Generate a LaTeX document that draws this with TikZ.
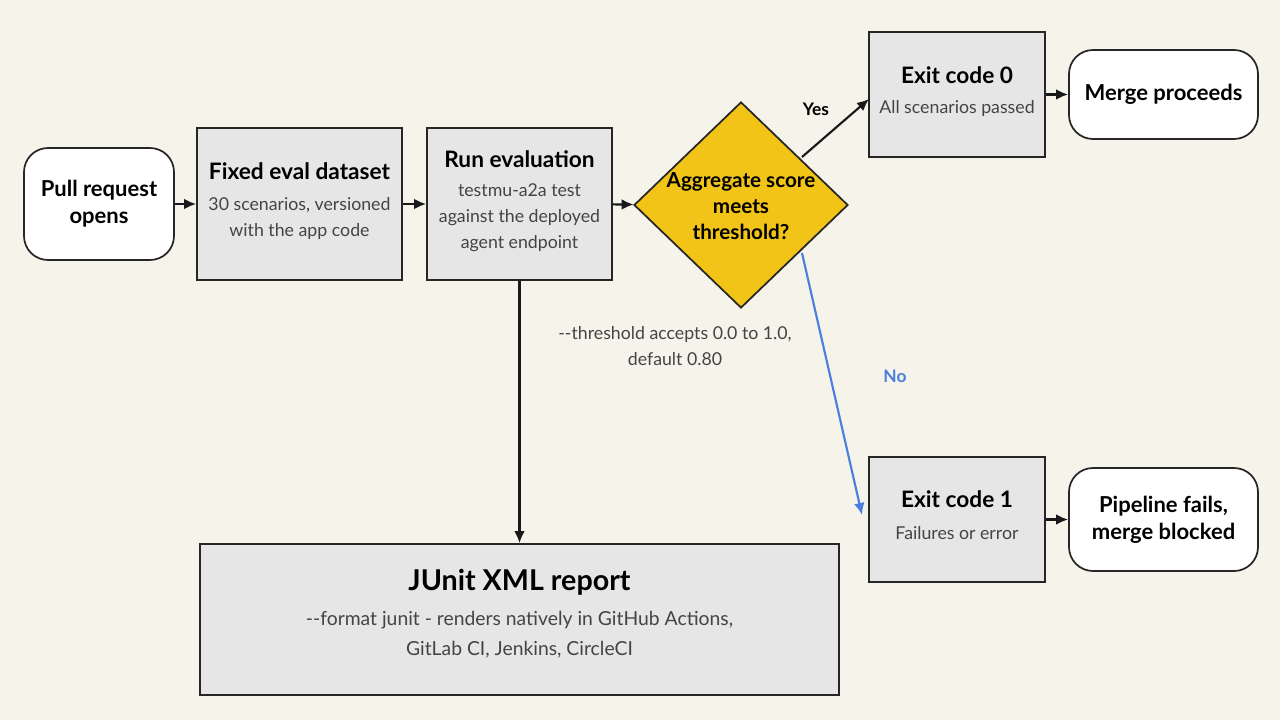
\documentclass[tikz,border=0pt]{standalone}
\usepackage{fontspec}
\setmainfont{Lato}
\usetikzlibrary{arrows.meta,shapes.geometric}
\definecolor{bg}{HTML}{F6F3EB}
\definecolor{boxf}{HTML}{E6E6E6}
\definecolor{dia}{HTML}{F2C418}
\definecolor{noc}{HTML}{4A7FE0}
\definecolor{sub}{HTML}{444444}
\begin{document}
\begin{tikzpicture}[x=0.75pt,y=-0.75pt,
  box/.style={draw=black!85,line width=1.3pt,fill=boxf,inner sep=0pt},
  rbox/.style={draw=black!85,line width=1.3pt,fill=white,rounded corners=18pt,inner sep=0pt,align=center,font=\bfseries\fontsize{16.5}{20.5}\selectfont},
  ttl/.style={font=\bfseries\fontsize{17}{19}\selectfont,inner sep=0pt},
  st/.style={font=\fontsize{13.3}{19.5}\selectfont,text=sub,align=center,inner sep=0pt},
  arr/.style={-{Latex[length=9pt,width=8pt]},line width=1.6pt,draw=black!90}]
\fill[bg] (0,0) rectangle (1280,720);
\useasboundingbox (0,0) rectangle (1280,720);
% boxes
\node[rbox,minimum width=150*0.75pt,minimum height=112*0.75pt] (pr) at (99,204) {Pull request\\opens};
\node[box,minimum width=205*0.75pt,minimum height=152*0.75pt] (fd) at (299.5,204) {};
\node[ttl] at (299.5,171) {Fixed eval dataset};
\node[st] at (299.5,218) {30 scenarios, versioned\\with the app code};
\node[box,minimum width=185*0.75pt,minimum height=152*0.75pt] (re) at (519.5,204) {};
\node[ttl] at (519.5,159) {Run evaluation};
\node[st] at (519.5,218) {testmu-a2a test\\against the deployed\\agent endpoint};
\node[diamond,draw=black!85,line width=1.3pt,fill=dia,minimum width=214*0.75pt,minimum height=206*0.75pt,inner sep=0pt] (dm) at (741,205) {};
\node[font=\bfseries\fontsize{15.5}{19.5}\selectfont,align=center] at (741,206) {Aggregate score\\meets\\threshold?};
\node[box,minimum width=176*0.75pt,minimum height=125*0.75pt] (e0) at (957,94.5) {};
\node[ttl] at (957,75) {Exit code 0};
\node[st] at (957,108) {All scenarios passed};
\node[rbox,minimum width=189*0.75pt,minimum height=89*0.75pt] (mp) at (1163.5,94.5) {Merge proceeds};
\node[box,minimum width=176*0.75pt,minimum height=125*0.75pt] (e1) at (957,519.5) {};
\node[ttl] at (957,499) {Exit code 1};
\node[st] at (957,533) {Failures or error};
\node[rbox,minimum width=189*0.75pt,minimum height=103*0.75pt] (pf) at (1163.5,519.5) {Pipeline fails,\\merge blocked};
\node[box,minimum width=639*0.75pt,minimum height=151*0.75pt] (ju) at (519.5,619.5) {};
\node[font=\bfseries\fontsize{21.5}{24}\selectfont,inner sep=0pt] at (519.5,582) {JUnit XML report};
\node[st,font=\fontsize{14.5}{22.5}\selectfont] at (519.5,635) {{-}{-}format junit - renders natively in GitHub Actions,\\GitLab CI, Jenkins, CircleCI};
% labels
\node[st] (th) at (675,346) {{-}{-}threshold accepts 0.0 to 1.0,\\default 0.80};
\node[font=\bfseries\fontsize{13}{14}\selectfont] (yes) at (816,109) {Yes};
\node[font=\bfseries\fontsize{13}{14}\selectfont,text=noc] (no) at (895,376) {No};
% arrows
\draw[arr] (pr) -- (fd);
\draw[arr] (fd) -- (re);
\draw[arr] (re) -- (dm);
\draw[arr] (re.south) -- (ju.north);
\coordinate (ys) at (802,157);
\coordinate (ns) at (802,253);
\coordinate (ne) at (862,515);
\draw[arr] (ys) -- (869,99);
\draw[arr,draw=noc] (ns) -- (ne);
\draw[arr] (e0) -- (mp);
\draw[arr] (e1) -- (pf);
\end{tikzpicture}
\end{document}
